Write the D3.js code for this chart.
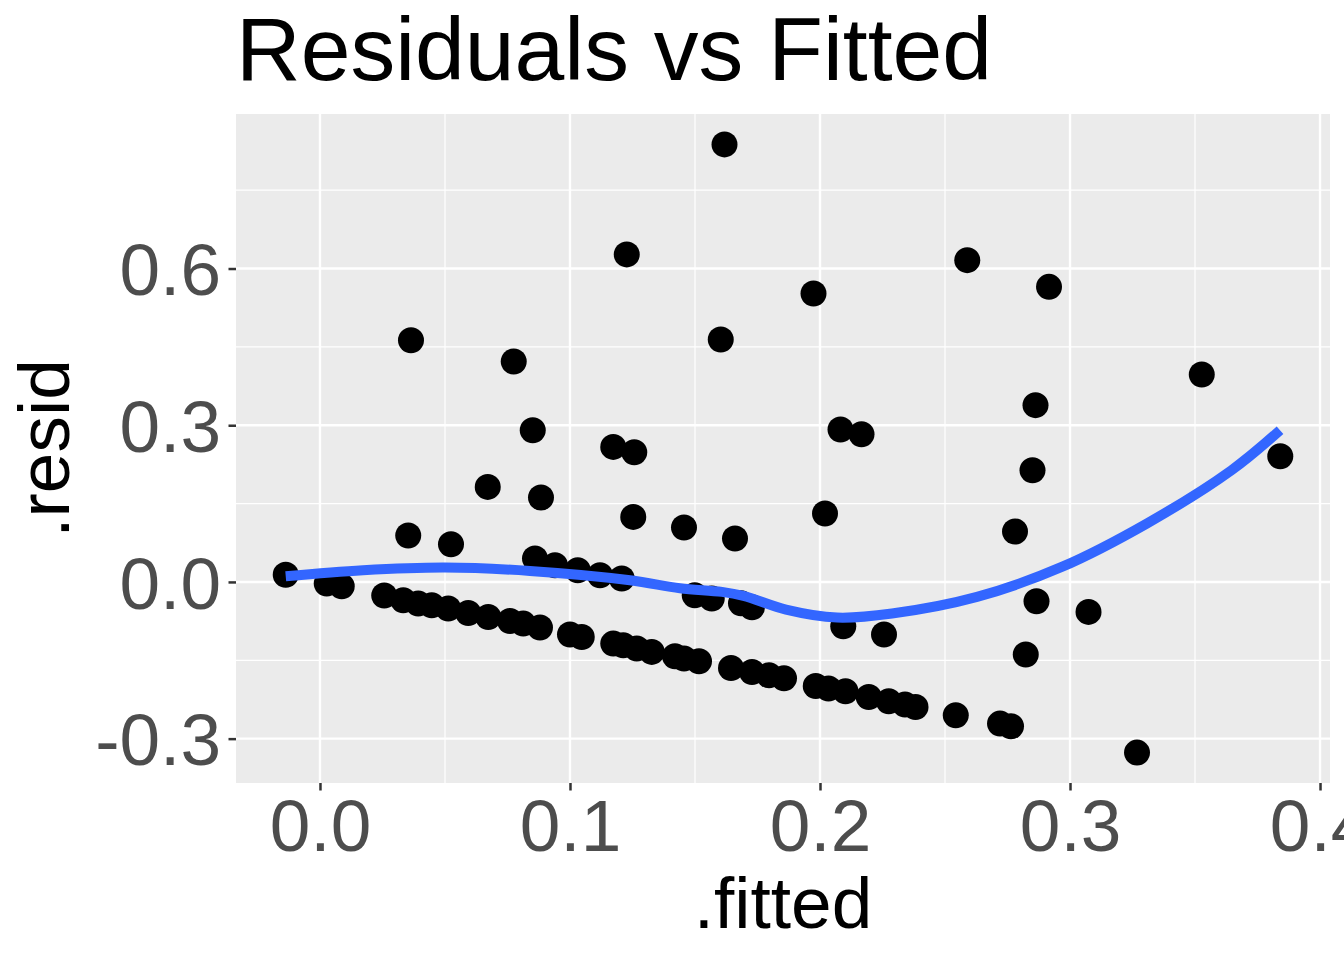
<!DOCTYPE html>
<html>
<meta charset="utf-8">
<head>
<script src="https://d3js.org/d3.v7.min.js"></script>
<style>
  body { margin: 0; background: #fff; }
  text { font-family: "Liberation Sans", Arial, Helvetica, sans-serif; }
</style>
</head>
<body>
<div id="chart"></div>
<script>
// fitted values and residuals
var fitted = [0.1618, 0.1227, 0.2589, 0.2916, 0.1974, 0.0364, 0.1603, 0.0775, 0.3527, 0.2862,
  0.0851, 0.2082, 0.2166, 0.1173, 0.1257, 0.2850, 0.3841, 0.0671, 0.0884, 0.1253,
  0.2020, 0.1456, 0.0353, 0.0524, 0.1660, 0.2780, -0.0137,
  0.0860, 0.0940, 0.1031, 0.1120, 0.1207, 0.1499, 0.1567, 0.1684, 0.1728,
  0.2093, 0.2256, 0.2866, 0.3074, 0.2823, 0.3268,
  0.0027, 0.0087, 0.0257, 0.0333, 0.0393, 0.0447, 0.0513, 0.0593, 0.0673, 0.0760,
  0.0813, 0.0880, 0.1000, 0.1047, 0.1173, 0.1213, 0.1267, 0.1327, 0.1420, 0.1456,
  0.1516, 0.1644, 0.1728, 0.1796, 0.1856, 0.1983, 0.2034, 0.2102, 0.2195, 0.2275,
  0.2340, 0.2382, 0.2543, 0.2720, 0.2764];
var resid = [0.8376, 0.6270, 0.6160, 0.5649, 0.5523, 0.4628, 0.4642, 0.4221, 0.3972, 0.3384,
  0.2905, 0.2918, 0.2828, 0.2585, 0.2484, 0.2139, 0.2407, 0.1819, 0.1616, 0.1245,
  0.1310, 0.1042, 0.0889, 0.0722, 0.0831, 0.0965, 0.0138,
  0.0448, 0.0320, 0.0224, 0.0128, 0.0065, -0.0255, -0.0318, -0.0408, -0.0484,
  -0.0848, -0.1007, -0.0370, -0.0574, -0.1390, -0.3267,
  -0.0031, -0.0082, -0.0260, -0.0350, -0.0414, -0.0446, -0.0509, -0.0594, -0.0670, -0.0747,
  -0.0797, -0.0873, -0.1007, -0.1053, -0.1180, -0.1212, -0.1275, -0.1340, -0.1423, -0.1467,
  -0.1519, -0.1647, -0.1723, -0.1787, -0.1844, -0.1992, -0.2041, -0.2093, -0.2202, -0.2285,
  -0.2348, -0.2394, -0.2553, -0.2712, -0.2763];

// loess smooth as drawn
var smoothX = [-0.0137, 0.0172, 0.05, 0.084, 0.124, 0.144, 0.1608, 0.1694, 0.1864, 0.2068,
  0.2288, 0.2628, 0.2967, 0.3307, 0.3646, 0.384];
var smoothY = [0.0109, 0.0224, 0.0276, 0.0211, 0.0033, -0.0121, -0.0191, -0.0268, -0.0529, -0.0682,
  -0.0605, -0.0287, 0.0287, 0.1118, 0.2139, 0.2905];

var xTicks = [0.0, 0.1, 0.2, 0.3, 0.4];
var xMinor = [0.05, 0.15, 0.25, 0.35];
var yTicks = [-0.3, 0.0, 0.3, 0.6];
var yMinor = [-0.15, 0.15, 0.45, 0.75];

var width = 1344, height = 960;
var margin = {top: 114, right: 14, bottom: 177, left: 236};

// ggplot style 5% expansion
function expand(ext) {
  var d = (ext[1] - ext[0]) * 0.05;
  return [ext[0] - d, ext[1] + d];
}

var x = d3.scaleLinear()
  .domain(expand(d3.extent(fitted)))
  .range([margin.left, width - margin.right]);
var y = d3.scaleLinear()
  .domain(expand(d3.extent(resid)))
  .range([height - margin.bottom, margin.top]);

var svg = d3.select("#chart").append("svg")
  .attr("width", width)
  .attr("height", height);

svg.append("rect")
  .attr("x", margin.left).attr("y", margin.top)
  .attr("width", width - margin.left - margin.right)
  .attr("height", height - margin.top - margin.bottom)
  .attr("fill", "#EBEBEB");

var grid = svg.append("g");
grid.selectAll(".xminor").data(xMinor).enter().append("line")
  .attr("x1", function(d) { return x(d); }).attr("x2", function(d) { return x(d); })
  .attr("y1", margin.top).attr("y2", height - margin.bottom)
  .attr("stroke", "#fff").attr("stroke-width", 1.2);
grid.selectAll(".yminor").data(yMinor).enter().append("line")
  .attr("y1", function(d) { return y(d); }).attr("y2", function(d) { return y(d); })
  .attr("x1", margin.left).attr("x2", width - margin.right)
  .attr("stroke", "#fff").attr("stroke-width", 1.2);
grid.selectAll(".xmajor").data(xTicks).enter().append("line")
  .attr("x1", function(d) { return x(d); }).attr("x2", function(d) { return x(d); })
  .attr("y1", margin.top).attr("y2", height - margin.bottom)
  .attr("stroke", "#fff").attr("stroke-width", 2.4);
grid.selectAll(".ymajor").data(yTicks).enter().append("line")
  .attr("y1", function(d) { return y(d); }).attr("y2", function(d) { return y(d); })
  .attr("x1", margin.left).attr("x2", width - margin.right)
  .attr("stroke", "#fff").attr("stroke-width", 2.4);

svg.append("clipPath").attr("id", "panel").append("rect")
  .attr("x", margin.left).attr("y", margin.top)
  .attr("width", width - margin.left - margin.right)
  .attr("height", height - margin.top - margin.bottom);

var plot = svg.append("g").attr("clip-path", "url(#panel)");

plot.selectAll("circle")
  .data(d3.range(fitted.length))
  .enter().append("circle")
  .attr("cx", function(i) { return x(fitted[i]); })
  .attr("cy", function(i) { return y(resid[i]); })
  .attr("r", 13)
  .attr("fill", "#000");

var line = d3.line()
  .x(function(i) { return x(smoothX[i]); })
  .y(function(i) { return y(smoothY[i]); })
  .curve(d3.curveCatmullRom);

plot.append("path")
  .attr("d", line(d3.range(smoothX.length)))
  .attr("fill", "none")
  .attr("stroke", "#3366FF")
  .attr("stroke-width", 10);

// axes
var xAxis = svg.append("g")
  .attr("transform", "translate(0," + (height - margin.bottom) + ")")
  .call(d3.axisBottom(x).tickValues(xTicks).tickFormat(d3.format(".1f")).tickSize(7.5).tickPadding(8));
var yAxis = svg.append("g")
  .attr("transform", "translate(" + margin.left + ",0)")
  .call(d3.axisLeft(y).tickValues(yTicks).tickFormat(d3.format(".1f")).tickSize(7.5).tickPadding(8));

[xAxis, yAxis].forEach(function(a) {
  a.select(".domain").remove();
  a.selectAll(".tick line").attr("stroke", "#333333").attr("stroke-width", 2.5);
  a.selectAll(".tick text")
    .attr("fill", "#4D4D4D")
    .style("font-size", "73px")
    .style("font-family", "'Liberation Sans', Arial, sans-serif");
});
xAxis.selectAll(".tick text").attr("dy", null).attr("y", 68);
yAxis.selectAll(".tick text").attr("dy", "0.36em").attr("x", -15);
// plain hyphen for negatives, like R
yAxis.selectAll(".tick text").text(function(d) { return d3.format(".1f")(d).replace("\u2212", "-"); });

svg.append("text")
  .attr("x", (margin.left + width - margin.right) / 2)
  .attr("y", 928)
  .attr("text-anchor", "middle")
  .style("font-size", "73px")
  .text(".fitted");

svg.append("text")
  .attr("transform", "translate(69," + ((margin.top + height - margin.bottom) / 2) + ") rotate(-90)")
  .attr("text-anchor", "middle")
  .style("font-size", "73px")
  .text(".resid");

svg.append("text")
  .attr("x", margin.left)
  .attr("y", 80)
  .style("font-size", "89.5px")
  .text("Residuals vs Fitted");
</script>
</body>
</html>
